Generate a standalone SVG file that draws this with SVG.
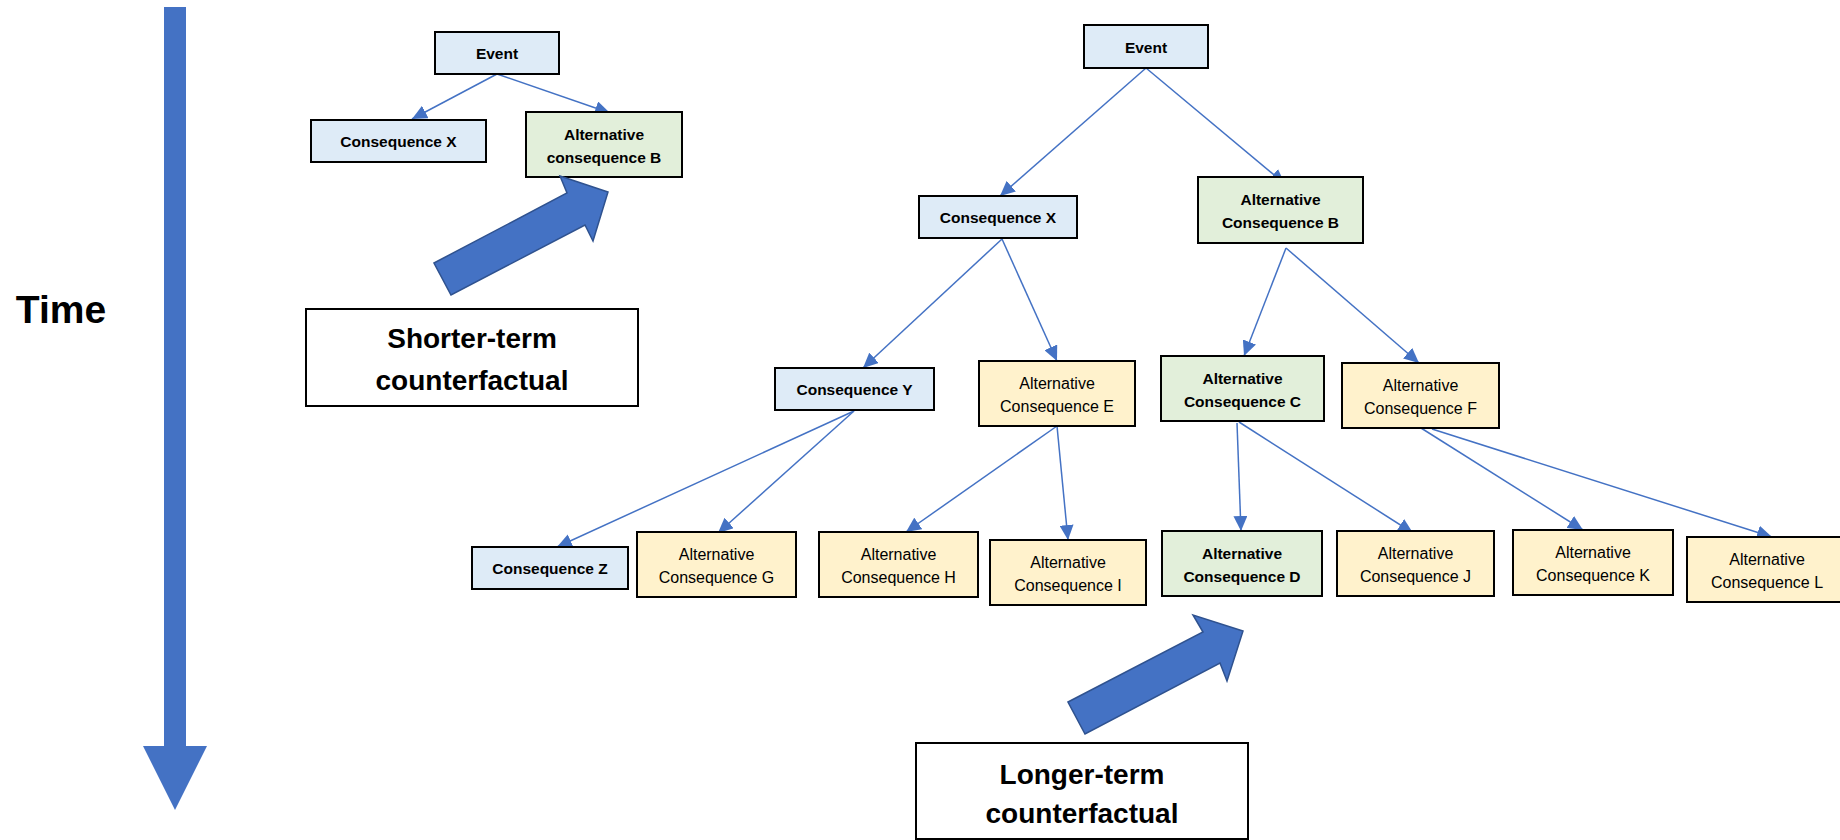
<svg xmlns="http://www.w3.org/2000/svg" width="1840" height="840" viewBox="0 0 1840 840">
<style>
.n rect{stroke:#000;stroke-width:2}
.blue rect{fill:#DEEBF7}
.green rect{fill:#E2EFDA}
.yellow rect{fill:#FFF2CC}
.white rect{fill:#fff}
text{font-family:"Liberation Sans",Arial,sans-serif;text-anchor:middle;fill:#000}
.b text{font-weight:bold;font-size:15.5px}
.r text{font-size:16px}
.big text{font-weight:bold;font-size:28px}
.c line{stroke:#4472C4;stroke-width:1.5;marker-end:url(#ah)}
.blk{fill:#4472C4;stroke:#2F528F;stroke-width:1.5}
</style>
<defs>
<marker id="ah" markerUnits="userSpaceOnUse" markerWidth="15" markerHeight="14" refX="15" refY="7" orient="auto" viewBox="0 0 15 14">
<path d="M0,0 L15,7 L0,14 z" fill="#4472C4"/>
</marker>
</defs>
<rect width="1840" height="840" fill="#fff"/>

<g id="time-arrow">
<polygon points="164,7 186,7 186,746 207,746 175,810 143,746 164,746" fill="#4472C4"/>
<text x="61" y="323" style="font-size:39px;font-weight:bold">Time</text>
</g>

<g id="connectors" class="c">
<line x1="497" y1="74" x2="412" y2="119"/>
<line x1="497" y1="74" x2="610" y2="113"/>
<line x1="1146" y1="68" x2="1000" y2="196"/>
<line x1="1146" y1="68" x2="1285" y2="184"/>
<line x1="1002" y1="239" x2="863" y2="368"/>
<line x1="1002" y1="239" x2="1057" y2="361"/>
<line x1="1286" y1="248" x2="1244" y2="356"/>
<line x1="1286" y1="248" x2="1419" y2="363"/>
<line x1="854" y1="411" x2="557" y2="547"/>
<line x1="854" y1="411" x2="718" y2="533"/>
<line x1="1057" y1="426" x2="906" y2="532"/>
<line x1="1057" y1="426" x2="1068" y2="540"/>
<line x1="1237" y1="423" x2="1241" y2="531"/>
<line x1="1239" y1="422" x2="1413" y2="533"/>
<line x1="1421" y1="428" x2="1583" y2="530"/>
<line x1="1432" y1="429" x2="1772" y2="537"/>
</g>

<g id="s-event" class="n blue b"><rect x="435" y="32" width="124" height="42"/><text x="497" y="59">Event</text></g>
<g id="s-consX" class="n blue b"><rect x="311" y="120" width="175" height="42"/><text x="398.5" y="147">Consequence X</text></g>
<g id="s-altB" class="n green b"><rect x="526" y="112" width="156" height="65"/><text x="604" y="139.5">Alternative</text><text x="604" y="162.5">consequence B</text></g>

<g id="short-arrow"><polygon class="blk" points="434,263 567,193 560,176 608,192 593,241 585,225 451,295"/></g>
<g id="short-label" class="n white big"><rect x="306" y="309" width="332" height="97"/><text x="472" y="348">Shorter-term</text><text x="472" y="390">counterfactual</text></g>

<g id="event" class="n blue b"><rect x="1084" y="25" width="124" height="43"/><text x="1146" y="52.5">Event</text></g>
<g id="consX" class="n blue b"><rect x="919" y="196" width="158" height="42"/><text x="998" y="223">Consequence X</text></g>
<g id="altB" class="n green b"><rect x="1198" y="177" width="165" height="66"/><text x="1280.5" y="205">Alternative</text><text x="1280.5" y="228">Consequence B</text></g>

<g id="consY" class="n blue b"><rect x="775" y="368" width="159" height="42"/><text x="854.5" y="395">Consequence Y</text></g>
<g id="altE" class="n yellow r"><rect x="979" y="361" width="156" height="65"/><text x="1057" y="388.5">Alternative</text><text x="1057" y="411.5">Consequence E</text></g>
<g id="altC" class="n green b"><rect x="1161" y="356" width="163" height="65"/><text x="1242.5" y="383.5">Alternative</text><text x="1242.5" y="406.5">Consequence C</text></g>
<g id="altF" class="n yellow r"><rect x="1342" y="363" width="157" height="65"/><text x="1420.5" y="390.5">Alternative</text><text x="1420.5" y="413.5">Consequence F</text></g>

<g id="consZ" class="n blue b"><rect x="472" y="547" width="156" height="42"/><text x="550" y="574">Consequence Z</text></g>
<g id="altG" class="n yellow r"><rect x="637" y="532" width="159" height="65"/><text x="716.5" y="559.5">Alternative</text><text x="716.5" y="582.5">Consequence G</text></g>
<g id="altH" class="n yellow r"><rect x="819" y="532" width="159" height="65"/><text x="898.5" y="559.5">Alternative</text><text x="898.5" y="582.5">Consequence H</text></g>
<g id="altI" class="n yellow r"><rect x="990" y="540" width="156" height="65"/><text x="1068" y="567.5">Alternative</text><text x="1068" y="590.5">Consequence I</text></g>
<g id="altD" class="n green b"><rect x="1162" y="531" width="160" height="65"/><text x="1242" y="558.5">Alternative</text><text x="1242" y="581.5">Consequence D</text></g>
<g id="altJ" class="n yellow r"><rect x="1337" y="531" width="157" height="65"/><text x="1415.5" y="558.5">Alternative</text><text x="1415.5" y="581.5">Consequence J</text></g>
<g id="altK" class="n yellow r"><rect x="1513" y="530" width="160" height="65"/><text x="1593" y="557.5">Alternative</text><text x="1593" y="580.5">Consequence K</text></g>
<g id="altL" class="n yellow r"><rect x="1687" y="537" width="160" height="65"/><text x="1767" y="564.5">Alternative</text><text x="1767" y="587.5">Consequence L</text></g>

<g id="long-arrow"><polygon class="blk" points="1068,702 1203,632 1193,615 1243,631 1227,681 1220,663 1085,734"/></g>
<g id="long-label" class="n white big"><rect x="916" y="743" width="332" height="96"/><text x="1082" y="784">Longer-term</text><text x="1082" y="823">counterfactual</text></g>
</svg>
